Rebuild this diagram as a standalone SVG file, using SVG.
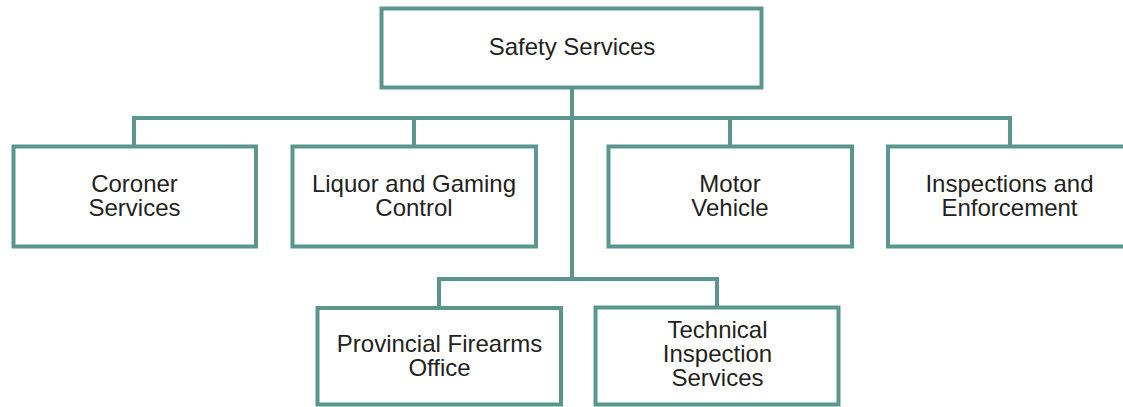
<svg xmlns="http://www.w3.org/2000/svg" width="1123" height="407" viewBox="0 0 1123 407">
<style>
.box{fill:#fff;stroke:#5a958e;stroke-width:4}
.conn{fill:none;stroke:#5a958e;stroke-width:4}
text{font-family:"Liberation Sans",Arial,sans-serif;font-size:24px;fill:#231f20;text-anchor:middle}
</style>
<rect width="1123" height="407" fill="#fff"/>
<g id="connectors">
<path class="conn" d="M572 88V278M134 147V118H1010V147M414 118V147M730 118V147M439 308V279H717V308"/>
</g>
<g id="safety-services">
<rect class="box" x="381.5" y="8.5" width="380" height="79"/>
<text x="572" y="55">Safety Services</text>
</g>
<g id="coroner-services">
<rect class="box" x="13.5" y="146.5" width="242.5" height="100"/>
<text x="134.5" y="192">Coroner</text>
<text x="134.5" y="216">Services</text>
</g>
<g id="liquor-gaming">
<rect class="box" x="292.5" y="146.5" width="243.5" height="100"/>
<text x="414" y="192">Liquor and Gaming</text>
<text x="414" y="216">Control</text>
</g>
<g id="motor-vehicle">
<rect class="box" x="608.5" y="146.5" width="243.5" height="100"/>
<text x="730" y="192">Motor</text>
<text x="730" y="216">Vehicle</text>
</g>
<g id="inspections-enforcement">
<rect class="box" x="888" y="146.5" width="243.5" height="100"/>
<text x="1009.5" y="192">Inspections and</text>
<text x="1009.5" y="216">Enforcement</text>
</g>
<g id="provincial-firearms">
<rect class="box" x="317.5" y="308" width="243.5" height="96.5"/>
<text x="439.5" y="352">Provincial Firearms</text>
<text x="439.5" y="376">Office</text>
</g>
<g id="technical-inspection">
<rect class="box" x="595.5" y="307.5" width="243" height="97"/>
<text x="717.5" y="337.5">Technical</text>
<text x="717.5" y="361.5">Inspection</text>
<text x="717.5" y="385.5">Services</text>
</g>
</svg>
